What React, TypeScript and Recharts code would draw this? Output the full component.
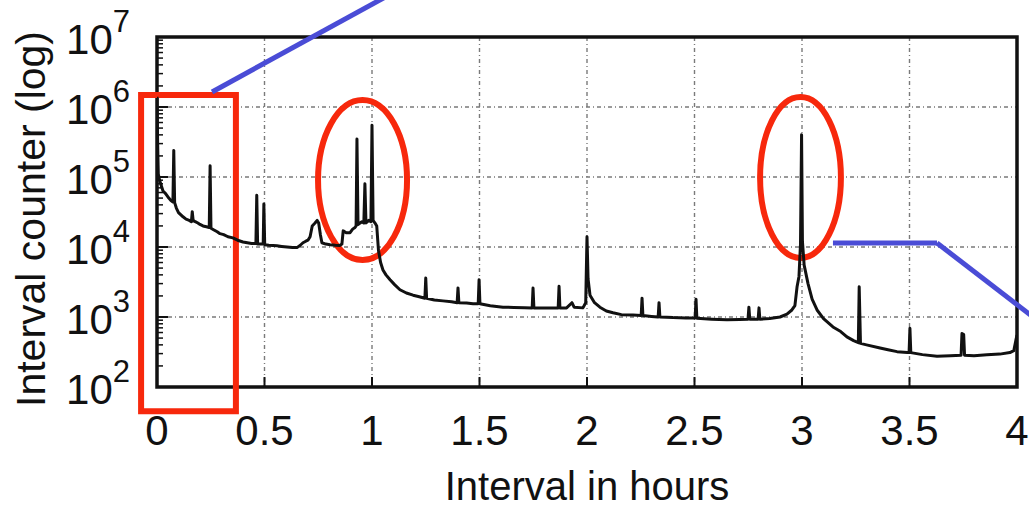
import { LineChart, Line, XAxis, YAxis, CartesianGrid, ReferenceArea, ReferenceLine } from "recharts";

// interval in hours vs. interval counter
const hours = [
  0, 0.003, 0.006, 0.012, 0.02, 0.028, 0.04, 0.055, 0.065, 0.074, 0.078, 0.082, 0.09, 0.1, 0.11, 0.121,
  0.135, 0.15, 0.16, 0.164, 0.168, 0.178, 0.19, 0.2, 0.214, 0.23, 0.243, 0.247, 0.251, 0.265, 0.28, 0.293,
  0.31, 0.33, 0.353, 0.375, 0.4, 0.42, 0.44, 0.46, 0.464, 0.468, 0.48, 0.494, 0.497, 0.501, 0.52, 0.54,
  0.558, 0.58, 0.605, 0.63, 0.651, 0.665, 0.679, 0.69, 0.702, 0.712, 0.722, 0.735, 0.745, 0.752, 0.76, 0.767,
  0.785, 0.805, 0.83, 0.85, 0.86, 0.866, 0.88, 0.898, 0.91, 0.921, 0.926, 0.93, 0.935, 0.945, 0.953, 0.962,
  0.967, 0.972, 0.985, 0.995, 1.0, 1.005, 1.014, 1.022, 1.03, 1.04, 1.051, 1.065, 1.084, 1.105, 1.13, 1.16,
  1.191, 1.22, 1.246, 1.25, 1.254, 1.29, 1.33, 1.37, 1.396, 1.4, 1.404, 1.44, 1.47, 1.494, 1.498, 1.502,
  1.55, 1.609, 1.66, 1.71, 1.745, 1.749, 1.753, 1.8, 1.84, 1.866, 1.87, 1.874, 1.905, 1.93, 1.94, 1.981,
  1.994, 2.0, 2.005, 2.014, 2.035, 2.06, 2.09, 2.121, 2.16, 2.214, 2.252, 2.256, 2.26, 2.3, 2.331, 2.335,
  2.339, 2.4, 2.46, 2.503, 2.507, 2.511, 2.58, 2.651, 2.71, 2.749, 2.753, 2.757, 2.796, 2.8, 2.804, 2.85,
  2.898, 2.93, 2.953, 2.967, 2.977, 2.986, 2.993, 2.998, 3.002, 3.01, 3.028, 3.047, 3.07, 3.1, 3.144, 3.18,
  3.209, 3.24, 3.262, 3.266, 3.272, 3.3, 3.363, 3.4, 3.442, 3.49, 3.498, 3.502, 3.506, 3.56, 3.628, 3.69,
  3.74, 3.744, 3.752, 3.756, 3.8, 3.86, 3.92, 3.967, 3.985, 3.995, 4.0,
];
const counts = [
  1.4e6, 3.0e5, 1.1e5, 9.0e4, 7.5e4, 6.3e4, 5.8e4, 5.0e4, 4.6e4, 4.4e4, 2.4e5, 4.3e4, 3.6e4, 3.1e4, 2.9e4, 2.7e4,
  2.5e4, 2.4e4, 2.3e4, 3.2e4, 2.4e4, 2.3e4, 2.2e4, 2.1e4, 2.0e4, 1.95e4, 1.9e4, 1.45e5, 1.85e4, 1.75e4, 1.65e4, 1.55e4,
  1.5e4, 1.4e4, 1.35e4, 1.25e4, 1.18e4, 1.15e4, 1.12e4, 1.12e4, 5.5e4, 1.1e4, 1.1e4, 1.1e4, 4.1e4, 1.08e4, 1.06e4, 1.05e4,
  1.04e4, 1.02e4, 1.0e4, 9.8e3, 9.8e3, 1.05e4, 1.15e4, 1.2e4, 1.25e4, 1.4e4, 2.0e4, 2.2e4, 2.4e4, 2.2e4, 1.5e4, 1.15e4,
  1.1e4, 1.08e4, 1.06e4, 1.05e4, 1.1e4, 1.7e4, 1.6e4, 1.6e4, 1.8e4, 1.9e4, 2.0e4, 3.5e5, 2.1e4, 2.2e4, 2.3e4, 2.2e4,
  8.0e4, 2.2e4, 2.4e4, 2.3e4, 5.5e5, 2.4e4, 2.2e4, 2.0e4, 9.0e3, 6.0e3, 4.7e3, 4.0e3, 3.4e3, 2.9e3, 2.45e3, 2.2e3,
  2.05e3, 1.95e3, 1.85e3, 3.6e3, 1.85e3, 1.75e3, 1.7e3, 1.65e3, 1.6e3, 2.6e3, 1.6e3, 1.58e3, 1.55e3, 1.55e3, 3.4e3, 1.55e3,
  1.45e3, 1.38e3, 1.37e3, 1.36e3, 1.35e3, 2.6e3, 1.35e3, 1.35e3, 1.34e3, 1.35e3, 2.75e3, 1.35e3, 1.35e3, 1.6e3, 1.38e3, 1.35e3,
  1.6e3, 1.4e4, 3.5e3, 2.05e3, 1.6e3, 1.38e3, 1.22e3, 1.15e3, 1.08e3, 1.07e3, 1.05e3, 1.86e3, 1.05e3, 1.02e3, 1.0e3, 1.6e3,
  1.0e3, 980, 970, 970, 1.8e3, 960, 930, 910, 920, 930, 1.38e3, 930, 930, 1.35e3, 930, 950,
  1.0e3, 1.1e3, 1.26e3, 1.45e3, 2.7e3, 3.8e3, 1.1e4, 4.0e5, 1.2e4, 5.5e3, 3.0e3, 1.8e3, 1.26e3, 950, 720, 620,
  520, 460, 430, 2.7e3, 420, 400, 360, 340, 320, 310, 310, 690, 310, 290, 275, 280,
  285, 580, 560, 285, 280, 288, 295, 310, 330, 470, 550,
];
const xTicks = [0, 0.5, 1, 1.5, 2, 2.5, 3, 3.5, 4];
const yMajor = [1e2, 1e3, 1e4, 1e5, 1e6, 1e7];
const yMinor = [2, 3, 4, 5, 6, 7, 8, 9].flatMap((m) => [1e2, 1e3, 1e4, 1e5, 1e6].map((d) => m * d));

const data = hours.map((h, i) => ({ h, count: counts[i] }));

const FONT = "'Liberation Sans', Arial, Helvetica, sans-serif";
const INK = "#111";
const RED = "#f7280c";
const BLUE = "#4a4cd6";
const X_GAP = 28;
const Y_GAP = 27;

const isMajor = (v: number) => Math.abs(Math.log10(v) - Math.round(Math.log10(v))) < 1e-6;

function BottomTick(props: any) {
  const { x, y, payload } = props;
  const axisY = y - X_GAP;
  return (
    <g>
      <line x1={x} x2={x} y1={axisY} y2={axisY - 10} stroke={INK} strokeWidth={2} />
      <text x={x} y={y + 30} textAnchor="middle" fontSize={42} fontFamily={FONT} fill={INK}>
        {String(payload.value)}
      </text>
    </g>
  );
}

function TopTick(props: any) {
  const { x, y } = props;
  return <line x1={x} x2={x} y1={y} y2={y + 10} stroke={INK} strokeWidth={2} />;
}

function LeftTick(props: any) {
  const { x, y, payload } = props;
  const v = payload.value as number;
  const axisX = x + Y_GAP;
  if (!isMajor(v)) {
    return <line x1={axisX} x2={axisX + 6} y1={y} y2={y} stroke={INK} strokeWidth={1.5} />;
  }
  return (
    <g>
      <line x1={axisX} x2={axisX + 11} y1={y} y2={y} stroke={INK} strokeWidth={2} />
      <text x={x} y={y + 17} textAnchor="end" fontSize={42} fontFamily={FONT} fill={INK}>
        <tspan>10</tspan>
        <tspan dy={-22} fontSize={31}>{Math.round(Math.log10(v))}</tspan>
      </text>
    </g>
  );
}

function RightTick(props: any) {
  const { x, y, payload } = props;
  const len = isMajor(payload.value) ? 11 : 6;
  return <line x1={x} x2={x - len} y1={y} y2={y} stroke={INK} strokeWidth={isMajor(payload.value) ? 2 : 1.5} />;
}

function YTitle(props: any) {
  const vb = props.viewBox;
  return (
    <text
      transform={`translate(${vb.x + 45},${vb.y + vb.height / 2 + 7}) rotate(-90)`}
      textAnchor="middle"
      fontSize={41}
      fontFamily={FONT}
      fill={INK}
    >
      Interval counter (log)
    </text>
  );
}

const Ellipse = (p: any) => (
  <ellipse
    cx={p.x + p.width / 2}
    cy={p.y + p.height / 2}
    rx={p.width / 2}
    ry={p.height / 2}
    fill="none"
    stroke={RED}
    strokeWidth={6}
  />
);

export default function App() {
  return (
    <div style={{ position: "absolute", left: 0, top: 0, width: 1029, height: 510, background: "#fff" }}>
      <LineChart width={1029} height={510} data={data} margin={{ top: 37, right: 12, bottom: 0, left: 0 }}>
        <CartesianGrid
          horizontalValues={yMajor}
          verticalValues={xTicks}
          stroke="#7a7a7a"
          strokeWidth={1.4}
          strokeDasharray="4 3 1 3"
        />
        <XAxis
          dataKey="h"
          type="number"
          domain={[0, 4]}
          ticks={xTicks}
          interval={0}
          allowDataOverflow
          height={123}
          axisLine={false}
          tickLine={false}
          tickSize={0}
          tickMargin={X_GAP}
          tick={<BottomTick />}
          label={{ value: "Interval in hours", position: "insideBottom", offset: 10, fontSize: 40, fontFamily: FONT, fill: INK }}
        />
        <XAxis
          xAxisId="top"
          orientation="top"
          dataKey="h"
          type="number"
          domain={[0, 4]}
          ticks={xTicks}
          interval={0}
          allowDataOverflow
          height={0}
          axisLine={false}
          tickLine={false}
          tickSize={0}
          tickMargin={0}
          tick={<TopTick />}
        />
        <YAxis
          scale="log"
          type="number"
          domain={[100, 1e7]}
          ticks={[...yMajor, ...yMinor]}
          interval={0}
          allowDataOverflow
          width={157}
          axisLine={false}
          tickLine={false}
          tickSize={0}
          tickMargin={Y_GAP}
          tick={<LeftTick />}
          label={{ content: <YTitle /> }}
        />
        <YAxis
          yAxisId="r"
          orientation="right"
          scale="log"
          type="number"
          domain={[100, 1e7]}
          ticks={[...yMajor, ...yMinor]}
          interval={0}
          allowDataOverflow
          width={0}
          axisLine={false}
          tickLine={false}
          tickSize={0}
          tickMargin={0}
          tick={<RightTick />}
        />
        <Line
          type="linear"
          dataKey="count"
          stroke={INK}
          strokeWidth={3}
          strokeLinejoin="round"
          dot={false}
          isAnimationActive={false}
        />
        <ReferenceArea x1={0} x2={4} y1={100} y2={1e7} fill="none" stroke={INK} strokeWidth={3.5} ifOverflow="visible" />
        <ReferenceArea x1={-0.074} x2={0.367} y1={45} y2={1.48e6} fill="none" stroke={RED} strokeWidth={6} ifOverflow="visible" />
        <ReferenceArea x1={0.749} x2={1.163} y1={6.5e3} y2={1.26e6} ifOverflow="visible" shape={Ellipse} />
        <ReferenceArea x1={2.805} x2={3.181} y1={6.97e3} y2={1.39e6} ifOverflow="visible" shape={Ellipse} />
        <ReferenceLine segment={[{ x: 0.256, y: 1.64e6 }, { x: 1.079, y: 3.98e7 }]} stroke={BLUE} strokeWidth={5} ifOverflow="visible" />
        <ReferenceLine segment={[{ x: 3.144, y: 1.14e4 }, { x: 3.628, y: 1.14e4 }]} stroke={BLUE} strokeWidth={5} ifOverflow="visible" />
        <ReferenceLine segment={[{ x: 3.628, y: 1.14e4 }, { x: 4.084, y: 948 }]} stroke={BLUE} strokeWidth={5} ifOverflow="visible" />
      </LineChart>
    </div>
  );
}
